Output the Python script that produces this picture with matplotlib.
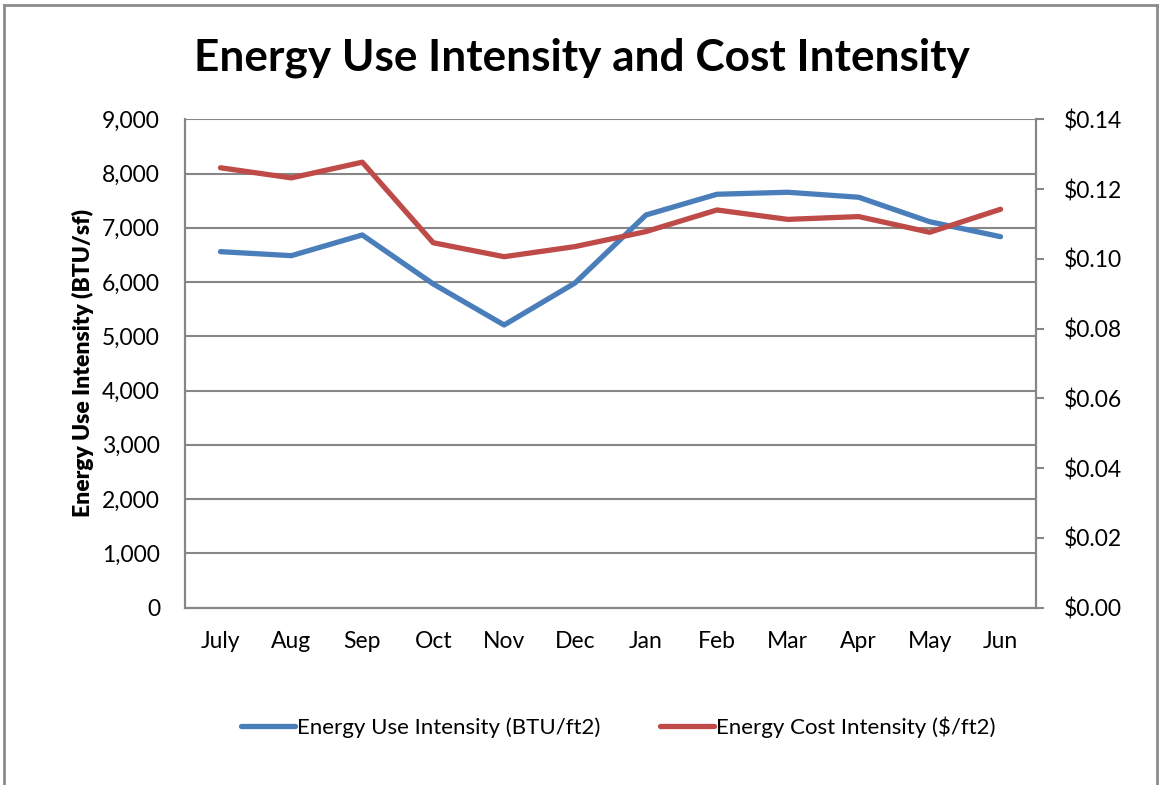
import matplotlib
matplotlib.use("Agg")
import matplotlib.pyplot as plt
from matplotlib.lines import Line2D
from matplotlib.ticker import FuncFormatter

plt.rcParams['font.family'] = ['Lato', 'DejaVu Sans']

# Datos
meses = ["July", "Aug", "Sep", "Oct", "Nov", "Dec",
         "Jan", "Feb", "Mar", "Apr", "May", "Jun"]
eui = [6560, 6486, 6868, 5965, 5208, 5983, 7236, 7618, 7655, 7563, 7112, 6836]
eci = [0.1261, 0.1232, 0.1277, 0.1046, 0.1006, 0.1035,
       0.1078, 0.1140, 0.1113, 0.1121, 0.1076, 0.1142]

azul = '#4A7EBB'
rojo = '#BE4B48'
gris = '#868686'

fig = plt.figure(figsize=(11.6, 7.85), dpi=100)
ax = fig.add_axes([185/1160, 1 - 607.5/785, (1036-185)/1160, (607.5-119.3)/785])
ax2 = ax.twinx()

x = list(range(len(meses)))
ax.plot(x, eui, color=azul, lw=3.8, solid_capstyle='round', zorder=3)
ax2.plot(x, eci, color=rojo, lw=3.8, solid_capstyle='round', zorder=3)

ax.set_xlim(-0.5, len(meses) - 0.5)
ax.set_ylim(0, 9000)
ax.set_yticks(range(0, 9001, 1000))
ax.yaxis.set_major_formatter(FuncFormatter(lambda v, p: f"{int(v):,}"))
ax2.set_ylim(0, 0.14)
ax2.set_yticks([i * 0.02 for i in range(8)])
ax2.yaxis.set_major_formatter(FuncFormatter(lambda v, p: f"${v:.2f}"))

ax.set_xticks(x)
ax.set_xticklabels(meses)
ax.grid(axis='y', color=gris, lw=1.5)
ax.set_axisbelow(True)

for a in (ax, ax2):
    for s in a.spines.values():
        s.set_color(gris)
        s.set_linewidth(1.5)
    a.spines['top'].set_visible(False)

ax.tick_params(axis='y', length=0, labelsize=16.5, pad=18)
ax.tick_params(axis='x', length=0, labelsize=16.5, pad=17)
ax2.tick_params(axis='y', length=6, width=1.5, color=gris, labelsize=16.5, pad=14)

ax.set_ylabel("Energy Use Intensity (BTU/sf)", fontsize=16.5, fontweight='heavy', labelpad=6)

fig.text(0.5 * (195 + 968) / 1160, 1 - 58/785, "Energy Use Intensity and Cost Intensity",
         ha='center', va='center', fontsize=31.8, fontweight='bold')

handles = [Line2D([], [], color=azul, lw=3.8, solid_capstyle='round'),
           Line2D([], [], color=rojo, lw=3.8, solid_capstyle='round')]
fig.legend(handles, ["Energy Use Intensity (BTU/ft2)", "Energy Cost Intensity ($/ft2)"],
           loc='center', bbox_to_anchor=(0.533, 1 - 727/785), ncol=2, frameon=False,
           fontsize=16, handlelength=2.4, handletextpad=0.1, columnspacing=2.7)

# Borde del area del grafico
fig.add_artist(Line2D([4/1160, 4/1160], [0, 1 - 5/785], color='#8c8c8c', lw=2))
fig.add_artist(Line2D([4/1160, 1157/1160], [1 - 5/785, 1 - 5/785], color='#8c8c8c', lw=2))
fig.add_artist(Line2D([1157/1160, 1157/1160], [0, 1 - 5/785], color='#8c8c8c', lw=2))

fig.savefig("out.png", dpi=100)
